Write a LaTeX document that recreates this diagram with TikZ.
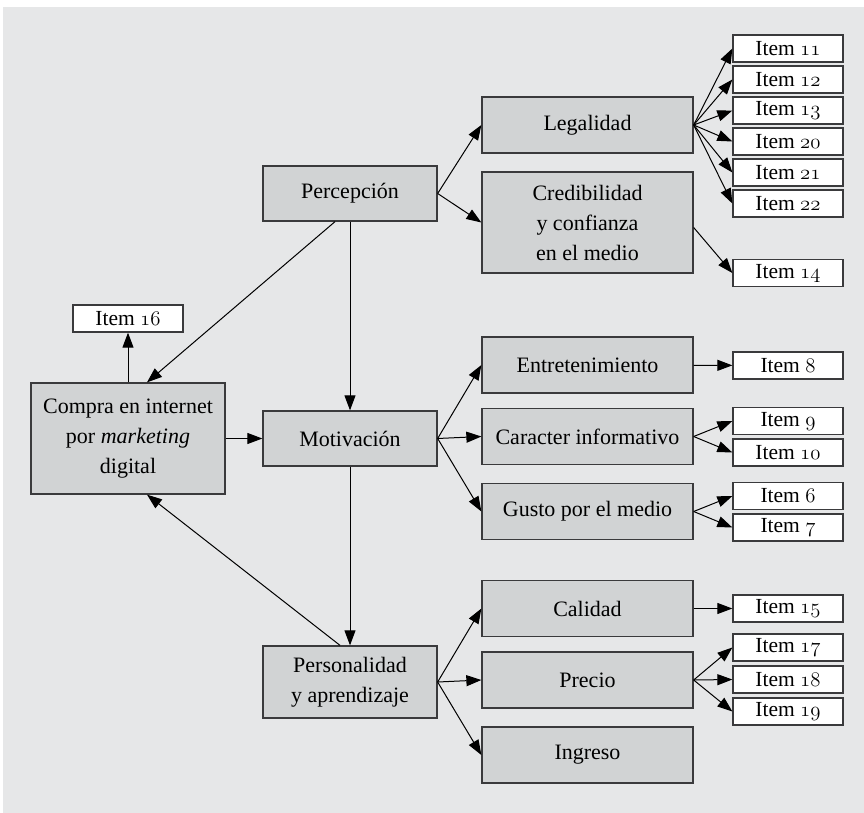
\documentclass[tikz,border=0pt]{standalone}
\usepackage{fontspec}
\setmainfont{Liberation Serif}
\usepackage{tikz}
\usetikzlibrary{arrows.meta}

\definecolor{panelgray}{HTML}{E6E7E8}
\definecolor{boxgray}{HTML}{D1D3D4}
\definecolor{edgegray}{HTML}{3A3A3C}
% old style figures for the item numbers
\newcommand{\oldnum}[1]{{\fontencoding{OML}\fontfamily{cmm}\fontseries{m}\fontshape{it}\selectfont #1}}

\begin{document}
\begin{tikzpicture}[x=1pt, y=-1pt,
		box/.style={draw=edgegray, fill=boxgray, line width=1.3pt, inner sep=0pt,
			align=center, font=\fontsize{22}{30}\selectfont},
		item/.style={draw=edgegray, fill=white, line width=1.3pt, inner sep=0pt,
			minimum width=110pt, minimum height=27pt, font=\fontsize{21.5}{24}\selectfont},
		link/.style={-{Triangle[length=15pt,width=11pt]}, line width=1pt, black}]
		\useasboundingbox (0,0) rectangle (864,813);
		\fill[panelgray] (3,7) rectangle (864,813);
		% left and middle column
		\node[box, minimum width=194pt, minimum height=111pt] (compra) at (128, 438.5) {Compra en internet\\por \textit{marketing}\\digital};
		\node[item] (i16) at (128, 318.5) {Item \oldnum{16}};
		\node[box, minimum width=174pt, minimum height=55pt] (perc) at (350, 193.5) {Percepción};
		\node[box, minimum width=174pt, minimum height=55pt] (mot) at (350, 438.5) {Motivación};
		\node[box, minimum width=174pt, minimum height=72pt] (pers) at (350, 682) {Personalidad\\y aprendizaje};
		% factors
		\node[box, minimum width=211pt, minimum height=56pt] (leg) at (587.5, 125) {Legalidad};
		\node[box, minimum width=211pt, minimum height=101pt] (cred) at (587.5, 222.5) {Credibilidad\\y confianza\\en el medio};
		\node[box, minimum width=211pt, minimum height=56pt] (entr) at (587.5, 365) {Entretenimiento};
		\node[box, minimum width=211pt, minimum height=56pt] (car) at (587.5, 436.5) {Caracter informativo};
		\node[box, minimum width=211pt, minimum height=56pt] (gus) at (587.5, 511.5) {Gusto por el medio};
		\node[box, minimum width=211pt, minimum height=56pt] (cal) at (587.5, 608.5) {Calidad};
		\node[box, minimum width=211pt, minimum height=56pt] (pre) at (587.5, 680) {Precio};
		\node[box, minimum width=211pt, minimum height=56pt] (ing) at (587.5, 755) {Ingreso};
		% items
		\foreach \n [count=\k from 0] in {11,12,13,20,21,22}
			\node[item] (i\n) at (788, 48.5+31*\k) {Item \oldnum{\n}};
		\node[item] (i14) at (788, 273) {Item \oldnum{14}};
		\node[item] (i8) at (788, 365.5) {Item \oldnum{8}};
		\node[item] (i9) at (788, 421) {Item \oldnum{9}};
		\node[item] (i10) at (788, 452.5) {Item \oldnum{10}};
		\node[item] (i6) at (788, 496) {Item \oldnum{6}};
		\node[item] (i7) at (788, 527.5) {Item \oldnum{7}};
		\node[item] (i15) at (788, 608.5) {Item \oldnum{15}};
		\node[item] (i17) at (788, 647.5) {Item \oldnum{17}};
		\node[item] (i18) at (788, 679.5) {Item \oldnum{18}};
		\node[item] (i19) at (788, 711.5) {Item \oldnum{19}};
		% connectors
		\draw[link] (compra) -- (i16);
		\draw[link] (compra.east |- mot) -- (mot);
		\draw[link] ([xshift=-15pt]perc.south) -- ([xshift=19pt]compra.north);
		\draw[link] ([xshift=-10pt]pers.north) -- ([xshift=19pt]compra.south);
		\draw[link] (perc) -- (mot);
		\draw[link] (mot) -- (pers);
		\foreach \f in {leg, cred}
			\draw[link] (perc.east) -- (\f.west);
		\foreach \f in {entr, car, gus}
			\draw[link] (mot.east) -- (\f.west);
		\foreach \f in {cal, pre, ing}
			\draw[link] (pers.east) -- (\f.west);
		\foreach \n in {11,12,13,20,21,22}
			\draw[link] (leg.east) -- (i\n.west);
		\draw[link] ([yshift=-5pt]cred.east) -- (i14.west);
		\draw[link] (entr) -- (i8);
		\draw[link] (car.east) -- (i9.west);
		\draw[link] (car.east) -- (i10.west);
		\draw[link] (gus.east) -- (i6.west);
		\draw[link] (gus.east) -- (i7.west);
		\draw[link] (cal) -- (i15);
		\foreach \n in {17,18,19}
			\draw[link] (pre.east) -- (i\n.west);
	\end{tikzpicture}
\end{document}
